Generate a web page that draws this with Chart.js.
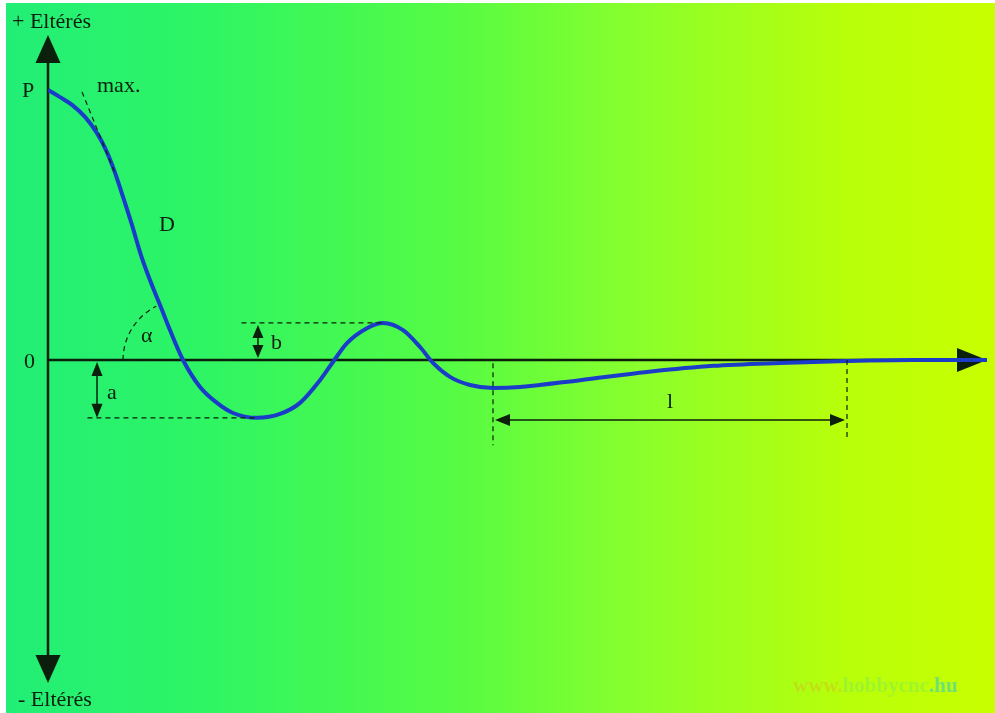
<!DOCTYPE html>
<html>
<head>
<meta charset="utf-8">
<script src="https://cdn.jsdelivr.net/npm/chart.js@4.4.0/dist/chart.umd.min.js"></script>
<style>
  html, body { margin: 0; padding: 0; background: #ffffff; }
  #c { display: block; }
</style>
</head>
<body>
<canvas id="c" width="995" height="713"></canvas>
<script>
// ---- Data (time units 0..100, deviation -100..100) ----
const timeValues = [0, 1.28, 2.56, 3.94, 5.22, 6.18, 7.03, 7.99, 8.95, 9.90, 10.86, 11.93, 12.99, 14.38,
  16.19, 18.00, 19.70, 22.26, 24.71, 26.84, 28.97, 30.35, 31.84, 33.97, 35.68, 37.81, 39.62, 41.00,
  42.81, 44.94, 47.39, 50.27, 56.66, 63.79, 70.82, 77.96, 85.09, 92.12, 100];
const deviationValues = [83.1, 80.9, 78.5, 74.8, 69.8, 64.6, 58.5, 50.2, 41.5, 32.3, 24.6, 16.9, 9.2, 0,
  -8.3, -13.2, -16.3, -17.8, -16.6, -13.2, -6.2, -0.6, 5.2, 9.8, 11.4, 9.2, 4.0, -0.9,
  -5.2, -7.7, -8.6, -8.3, -6.2, -3.7, -1.8, -0.9, -0.3, 0, 0];

// annotation reference values (data units)
const maxTangentX = [3.62, 7.2];
const maxTangentY = [82.5, 57.0];
const aArrowX = 5.22;
const aLineStartX = 4.2;
const bLineStartX = 20.6;
const bArrowX = 22.36;
const lStartX = 47.39;
const lEndX = 85.09;
const lArrowY = -18.46;
const lDashBottomY = -26.2;

const axisLabels = { top: '+ Eltérés', bottom: '- Eltérés', zero: '0', p: 'P' };

const points = timeValues.map((t, i) => ({ x: t, y: deviationValues[i] }));
const troughA = Math.min(...deviationValues.slice(0, 25));
const troughAIdx = deviationValues.indexOf(troughA);
const peakB = Math.max(...deviationValues.slice(20, 30));
const peakBIdx = deviationValues.indexOf(peakB);
const zeroCrossX = timeValues[deviationValues.indexOf(0)];

const INK = '#0c1f0c';
const SERIF = '"Liberation Serif", "DejaVu Serif", serif';

function triangle(ctx, tipX, tipY, dir, len, half) {
  ctx.beginPath();
  if (dir === 'up') { ctx.moveTo(tipX, tipY); ctx.lineTo(tipX - half, tipY + len); ctx.lineTo(tipX + half, tipY + len); }
  if (dir === 'down') { ctx.moveTo(tipX, tipY); ctx.lineTo(tipX - half, tipY - len); ctx.lineTo(tipX + half, tipY - len); }
  if (dir === 'right') { ctx.moveTo(tipX, tipY); ctx.lineTo(tipX - len, tipY - half); ctx.lineTo(tipX - len, tipY + half); }
  if (dir === 'left') { ctx.moveTo(tipX, tipY); ctx.lineTo(tipX + len, tipY - half); ctx.lineTo(tipX + len, tipY + half); }
  ctx.closePath();
  ctx.fill();
}

const backgroundPlugin = {
  id: 'bg',
  beforeDraw(chart) {
    const ctx = chart.ctx;
    ctx.save();
    ctx.fillStyle = '#ffffff';
    ctx.fillRect(0, 0, chart.width, chart.height);
    const g = ctx.createLinearGradient(6, 0, chart.width, 0);
    g.addColorStop(0, '#22ee76');
    g.addColorStop(0.2, '#2ef564');
    g.addColorStop(0.45, '#55fb44');
    g.addColorStop(0.65, '#8cff2a');
    g.addColorStop(0.85, '#b8ff0a');
    g.addColorStop(1, '#c8ff00');
    ctx.fillStyle = g;
    ctx.fillRect(6, 3, chart.width - 6, chart.height - 3);
    ctx.restore();
  }
};

const axesPlugin = {
  id: 'axes',
  beforeDatasetsDraw(chart) {
    const ctx = chart.ctx, xs = chart.scales.x, ys = chart.scales.y;
    const x0 = xs.getPixelForValue(0), y0 = ys.getPixelForValue(0);
    const yTop = ys.getPixelForValue(100), yBot = ys.getPixelForValue(-99.4);
    const xEnd = xs.getPixelForValue(100);
    ctx.save();
    ctx.strokeStyle = INK; ctx.fillStyle = INK; ctx.lineWidth = 2.5;
    ctx.beginPath(); ctx.moveTo(x0, yTop + 20); ctx.lineTo(x0, yBot - 20); ctx.stroke();
    ctx.beginPath(); ctx.moveTo(x0, y0); ctx.lineTo(xEnd - 20, y0); ctx.stroke();
    triangle(ctx, x0, yTop, 'up', 28, 12.5);
    triangle(ctx, x0, yBot, 'down', 28, 12.5);
    triangle(ctx, xEnd, y0, 'right', 30, 12);
    ctx.restore();
  }
};

const annotationPlugin = {
  id: 'notes',
  afterDatasetsDraw(chart) {
    const ctx = chart.ctx, xs = chart.scales.x, ys = chart.scales.y;
    const X = v => xs.getPixelForValue(v), Y = v => ys.getPixelForValue(v);
    ctx.save();
    ctx.strokeStyle = INK; ctx.fillStyle = INK;

    // dashed lines
    ctx.lineWidth = 1.2;
    ctx.setLineDash([5, 4]);
    ctx.beginPath(); ctx.moveTo(X(maxTangentX[0]), Y(maxTangentY[0])); ctx.lineTo(X(maxTangentX[1]), Y(maxTangentY[1])); ctx.stroke();
    ctx.beginPath(); ctx.moveTo(X(aLineStartX), Y(troughA)); ctx.lineTo(X(timeValues[troughAIdx]), Y(troughA)); ctx.stroke();
    ctx.beginPath(); ctx.moveTo(X(bLineStartX), Y(peakB)); ctx.lineTo(X(timeValues[peakBIdx]), Y(peakB)); ctx.stroke();
    ctx.beginPath(); ctx.moveTo(X(lStartX), Y(-1)); ctx.lineTo(X(lStartX), Y(lDashBottomY)); ctx.stroke();
    ctx.beginPath(); ctx.moveTo(X(lEndX), Y(0)); ctx.lineTo(X(lEndX), Y(lDashBottomY + 1.5)); ctx.stroke();
    // alpha arc
    ctx.beginPath(); ctx.arc(X(zeroCrossX), Y(0), 60, Math.PI, 4.25); ctx.stroke();
    ctx.setLineDash([]);

    // a arrow
    ctx.lineWidth = 1.5;
    const ax = X(aArrowX);
    ctx.beginPath(); ctx.moveTo(ax, Y(0) + 10); ctx.lineTo(ax, Y(troughA) - 10); ctx.stroke();
    triangle(ctx, ax, Y(0) + 2, 'up', 14, 5.5);
    triangle(ctx, ax, Y(troughA), 'down', 14, 5.5);
    // b arrow
    const bx = X(bArrowX);
    ctx.beginPath(); ctx.moveTo(bx, Y(peakB) + 8); ctx.lineTo(bx, Y(0) - 8); ctx.stroke();
    triangle(ctx, bx, Y(peakB) + 2, 'up', 13, 5.5);
    triangle(ctx, bx, Y(0) - 2, 'down', 13, 5.5);
    // l arrow
    const ly = Y(lArrowY);
    ctx.beginPath(); ctx.moveTo(X(lStartX) + 10, ly); ctx.lineTo(X(lEndX) - 10, ly); ctx.stroke();
    triangle(ctx, X(lStartX) + 2, ly, 'left', 15, 6);
    triangle(ctx, X(lEndX) - 2, ly, 'right', 15, 6);

    // labels
    ctx.font = '22px ' + SERIF;
    ctx.textBaseline = 'middle';
    ctx.textAlign = 'left';
    ctx.fillText(axisLabels.top, 12, 22);
    ctx.fillText(axisLabels.bottom, 18, 700);
    ctx.fillText(axisLabels.p, 22, 91);
    ctx.fillText(axisLabels.zero, 24, 362);
    ctx.fillText('max.', 97, 86);
    ctx.fillText('D', 159, 225);
    ctx.fillText('α', 141, 336);
    ctx.fillText('a', 107, 393);
    ctx.fillText('b', 271, 343);
    ctx.textAlign = 'center';
    ctx.fillText('l', X((lStartX + lEndX) / 2), Y(-12.9));

    // watermark
    ctx.textAlign = 'left';
    ctx.font = 'bold 21px ' + SERIF;
    let wx = 793; const wy = 687;
    ctx.fillStyle = 'rgba(240,150,40,0.3)'; ctx.fillText('www.', wx, wy); wx += ctx.measureText('www.').width;
    ctx.fillStyle = 'rgba(120,230,90,0.45)'; ctx.fillText('hobbycnc', wx, wy); wx += ctx.measureText('hobbycnc').width;
    ctx.fillStyle = 'rgba(40,200,210,0.55)'; ctx.fillText('.hu', wx, wy);
    ctx.restore();
  }
};

new Chart(document.getElementById('c'), {
  type: 'line',
  data: {
    datasets: [{
      data: points,
      borderColor: '#1a3cc8',
      borderWidth: 4,
      pointRadius: 0,
      fill: false,
      cubicInterpolationMode: 'monotone'
    }]
  },
  options: {
    responsive: false,
    animation: false,
    devicePixelRatio: 1,
    layout: { padding: { left: 48, right: 8, top: 35, bottom: 28 } },
    plugins: { legend: { display: false }, tooltip: { enabled: false } },
    scales: {
      x: { type: 'linear', min: 0, max: 100, display: false },
      y: { type: 'linear', min: -100, max: 100, display: false }
    }
  },
  plugins: [backgroundPlugin, axesPlugin, annotationPlugin]
});
</script>
</body>
</html>
